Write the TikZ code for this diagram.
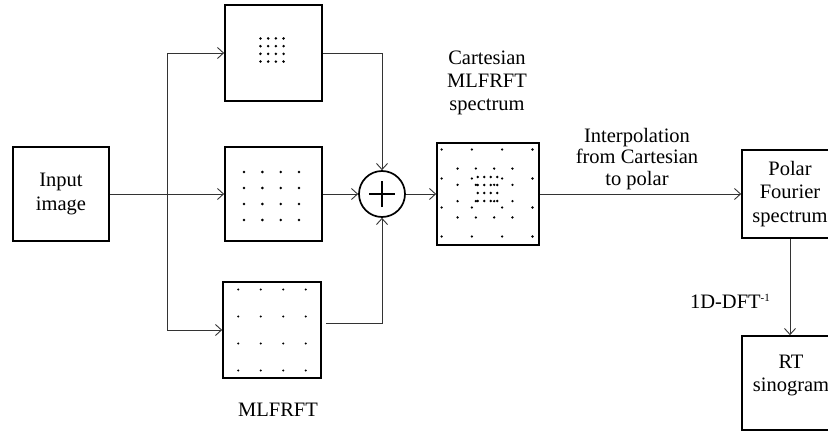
\documentclass[tikz,border=0pt]{standalone}
\usepackage{fontspec}
\setmainfont{Liberation Serif}
\usetikzlibrary{arrows.meta}
\begin{document}
\begin{tikzpicture}[x=1pt,y=-1pt,
  box/.style={draw, line width=1.7pt, inner sep=0pt, align=center,
    font=\fontsize{20.5}{23.5}\selectfont},
  conn/.style={line width=0.9pt, draw=black!80},
  arr/.style={conn, -{Straight Barb[length=6pt,width=11pt,line width=0.9pt]}},
  lbl/.style={align=center, font=\fontsize{20.5}{23}\selectfont},
  dt/.style={fill=black}]
\useasboundingbox (0,0) rectangle (828,431);

% boxes
\node[box, minimum width=96pt, minimum height=94pt] (in) at (61,194) {Input\\image};
\node[box, minimum width=97pt, minimum height=96pt] (top) at (273.5,53) {};
\node[box, minimum width=97pt, minimum height=94pt] (mid) at (273.5,194) {};
\node[box, minimum width=98pt, minimum height=96pt] (bot) at (272,330) {};
\node[draw, circle, line width=1.7pt, minimum size=46pt, inner sep=0pt] (sum) at (382,194) {};
\node[box, minimum width=102pt, minimum height=102pt] (cart) at (488,194) {};
\node[box, minimum width=96pt, minimum height=88pt] (polar) at (790,194) {Polar\\Fourier\\spectrum};
\node[box, minimum width=96pt, minimum height=94pt] (rt) at (790,383) {};
\node[lbl] (rtl) at (791,375) {RT\\sinogram};

% plus sign
\draw[line width=1.7pt] ([xshift=-13pt]sum.center) -- ([xshift=13pt]sum.center);
\draw[line width=1.7pt] ([yshift=-13pt]sum.center) -- ([yshift=13pt]sum.center);

% labels
\node[lbl] (cl) at (487,83) {Cartesian\\MLFRFT\\spectrum};
\node[lbl, font=\fontsize{20.5}{21.5}\selectfont] (il) at (637,159) {Interpolation\\from Cartesian\\to polar};
\node[lbl] (ml) at (278,410) {MLFRFT};
\node[lbl] (dl) at (730,301) {1D-DFT\raisebox{0.75ex}{\fontsize{11}{11}\selectfont -1}};

% connectors
\coordinate (j) at (167,194);
\coordinate (bo) at (326,323);
\draw[conn] (in.east) -- (j);
\draw[conn] (j |- top.west) -- (j |- bot.west);
\draw[arr] (j |- top.west) -- (top.west);
\draw[arr] (j) -- (mid.west);
\draw[arr] (j |- bot.west) -- (bot.west);
\draw[arr] (top.east) -| (sum.north);
\draw[arr] (mid.east) -- (sum.west);
\draw[arr] (bo) -| (sum.south);
\draw[arr] (sum.east) -- (cart.west);
\draw[arr] (cart.east) -- (polar.west);
\draw[arr] (polar.south) -- (rt.north);

% dot grids
\foreach \i in {-1.5,-0.5,0.5,1.5} {
  \foreach \k in {-1.5,-0.5,0.5,1.5} {
    \fill[dt] ({272+7.7*\i},{50+7.7*\k}) circle (1.4);
    \fill[dt] ({271.5+18.3*\i},{196+16*\k}) circle (1.4);
    \fill[dt] ({272+22.5*\i},{330+27*\k}) circle (1.2);
    \fill[dt] ({487+30.3*\i},{193+29*\k}) circle (1.3);
    \fill[dt] ({485+18.3*\i},{193+16.3*\k}) circle (1.3);
    \fill[dt] ({487.5+6.5*\i},{189+8*\k}) circle (1.3);
  }
}
\end{tikzpicture}
\end{document}
